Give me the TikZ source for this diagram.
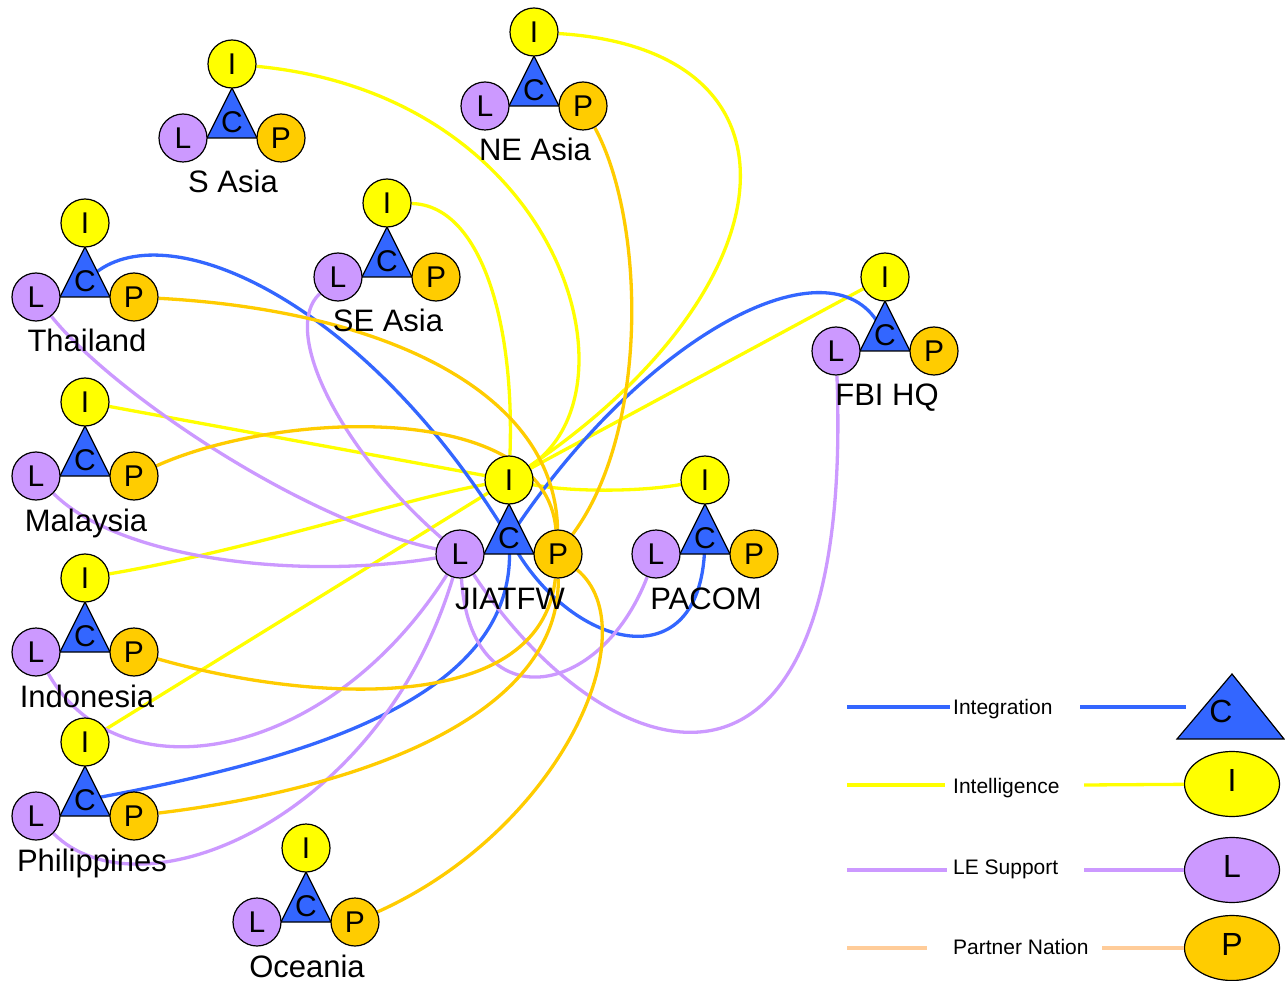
\documentclass[tikz,border=0pt]{standalone}
\usepackage{fontspec}
\setmainfont{Liberation Sans}
\usetikzlibrary{backgrounds, shapes.geometric}
\definecolor{cblue}{RGB}{51,102,255}
\definecolor{iyel}{RGB}{255,255,0}
\definecolor{lpur}{RGB}{204,153,255}
\definecolor{pora}{RGB}{255,204,0}
\definecolor{pnat}{RGB}{255,204,153}

\begin{document}
\begin{tikzpicture}[
  x=1pt, y=-1pt,
  ball/.style={circle, draw=black, line width=1.2pt, minimum size=48pt,
               inner sep=0pt, font=\fontsize{30}{30}\selectfont,
               text height=21.5pt, text depth=0pt},
  icirc/.style={ball, fill=iyel},
  lcirc/.style={ball, fill=lpur},
  pcirc/.style={ball, fill=pora},
  ctri/.style={fill=cblue, draw=black, line width=1.2pt},
  cmark/.style={inner sep=0pt, font=\fontsize{30}{30}\selectfont,
                text height=21.5pt, text depth=0pt},
  grp/.style={inner sep=0pt, font=\fontsize{31}{31}\selectfont,
              text height=22pt, text depth=0pt},
  lgtext/.style={inner sep=0pt, anchor=west, font=\fontsize{21}{21}\selectfont,
                 text height=15pt, text depth=0pt},
  lgoval/.style={ellipse, draw=black, line width=1.2pt, minimum width=95pt,
                 minimum height=65pt, inner sep=0pt,
                 font=\fontsize{32}{32}\selectfont,
                 text height=23pt, text depth=8pt},
  lnk/.style={line width=3.3pt},
  intg/.style={lnk, cblue},
  intl/.style={lnk, iyel},
  lesp/.style={lnk, lpur},
  ptnr/.style={lnk, pora},
  pnln/.style={lnk, pnat}
]
\useasboundingbox (0,0) rectangle (1285,981);
%% Office groups: C triangle with I, L, P around it
\foreach \n/\x/\y/\t/\d in {SAsia/232/138/S Asia/1, NEAsia/534/106/NE Asia/1,
    SEAsia/387/277/SE Asia/1, Thailand/85/297/Thailand/2, Malaysia/85/476/Malaysia/1,
    Indonesia/85/652/Indonesia/2, Philippines/85/816/Philippines/7,
    Oceania/306/922/Oceania/1, JIATFW/509/554/JIATFW/1, PACOM/705/554/PACOM/1,
    FBIHQ/885/351/FBI HQ/2}{
  \path[ctri] ({\x-25},\y) -- ({\x+25},\y) -- (\x,{\y-50}) -- cycle;
  \node[cmark] (\n-C) at (\x,{\y-16}) {C};
  \node[icirc] (\n-I) at (\x,{\y-74}) {I};
  \node[lcirc] (\n-L) at ({\x-49},\y) {L};
  \node[pcirc] (\n-P) at ({\x+49},\y) {P};
  \node[grp] (\n-name) at ({\x+\d},{\y+44}) {\t};
}
\begin{pgfonlayer}{background}
\fill[white] (0,0) rectangle (1285,981);
%% Intelligence links
\draw[intl] (SAsia-I) .. controls (560,95) and (645,390) .. (JIATFW-I);
\draw[intl] (NEAsia-I) .. controls (820,50) and (790,290) .. (JIATFW-I);
\draw[intl] (SEAsia-I) .. controls (480,205) and (515,320) .. (JIATFW-I);
\draw[intl] (Malaysia-I) -- (JIATFW-I);
\draw[intl] (Indonesia-I) .. controls (250,550) and (400,500) .. (JIATFW-I);
\draw[intl] (Philippines-I) -- (JIATFW-I);
\draw[intl] (FBIHQ-I) -- (JIATFW-I);
\draw[intl] (PACOM-I) .. controls (640,492) and (570,492) .. (JIATFW-I);
%% Integration links
\draw[intg] (Thailand-C) .. controls (170,215) and (360,300) .. (JIATFW-C);
\draw[intg] (JIATFW-C) .. controls (575,650) and (700,680) .. (PACOM-C);
\draw[intg] (FBIHQ-C) .. controls (830,240) and (650,330) .. (JIATFW-C);
\draw[intg] (Philippines-C) .. controls (300,760) and (515,700) .. (JIATFW-C);
%% LE support links
\draw[lesp] (Thailand-L) .. controls (110,390) and (300,520) .. (JIATFW-L);
\draw[lesp] (SEAsia-L) .. controls (280,330) and (340,450) .. (JIATFW-L);
\draw[lesp] (Malaysia-L) .. controls (120,560) and (300,580) .. (JIATFW-L);
\draw[lesp] (Indonesia-L) .. controls (120,800) and (330,760) .. (JIATFW-L);
\draw[lesp] (Philippines-L) .. controls (140,920) and (380,820) .. (JIATFW-L);
\draw[lesp] (PACOM-L) .. controls (600,700) and (470,720) .. (JIATFW-L);
\draw[lesp] (FBIHQ-L) .. controls (855,850) and (610,780) .. (JIATFW-L);
%% Partner nation links
\draw[ptnr] (Thailand-P) .. controls (380,310) and (555,390) .. (JIATFW-P);
\draw[ptnr] (Malaysia-P) .. controls (280,410) and (545,400) .. (JIATFW-P);
\draw[ptnr] (Indonesia-P) .. controls (300,700) and (540,720) .. (JIATFW-P);
\draw[ptnr] (Philippines-P) .. controls (350,790) and (560,720) .. (JIATFW-P);
\draw[ptnr] (Oceania-P) .. controls (560,830) and (650,630) .. (JIATFW-P);
\draw[ptnr] (NEAsia-P) .. controls (645,220) and (650,430) .. (JIATFW-P);
\end{pgfonlayer}
%% Legend
\path[ctri] (1177,739) -- (1284,739) -- (1232,674) -- cycle;
\node[cmark, font=\fontsize{32}{32}\selectfont, text height=23pt] (lg-C) at (1221,711) {C};
\node[lgoval, fill=iyel] (lg-I) at (1232,784) {I};
\node[lgoval, fill=lpur] (lg-L) at (1232,870) {L};
\node[lgoval, fill=pora] (lg-P) at (1232,948) {P};
\node[lgtext] (lgt-C) at (953,707) {Integration};
\node[lgtext] (lgt-I) at (953,786) {Intelligence};
\node[lgtext] (lgt-L) at (953,867) {LE Support};
\node[lgtext] (lgt-P) at (953,947) {Partner Nation};
\coordinate (c1) at (847,707); \coordinate (c2) at (950,707);
\coordinate (c3) at (1080,707); \coordinate (c4) at (1186,707);
\coordinate (i1) at (847,785); \coordinate (i2) at (945,785); \coordinate (i3) at (1084,785);
\coordinate (l1) at (847,870); \coordinate (l2) at (947,870); \coordinate (l3) at (1084,870);
\coordinate (p1) at (847,948); \coordinate (p2) at (927,948); \coordinate (p3) at (1102,948);
\draw[intg] (c1) -- (c2); \draw[intg] (c3) -- (c4);
\draw[intl] (i1) -- (i2); \draw[intl] (i3) -- (lg-I);
\draw[lesp] (l1) -- (l2); \draw[lesp] (l3) -- (lg-L);
\draw[pnln] (p1) -- (p2); \draw[pnln] (p3) -- (lg-P);
\end{tikzpicture}
\end{document}
